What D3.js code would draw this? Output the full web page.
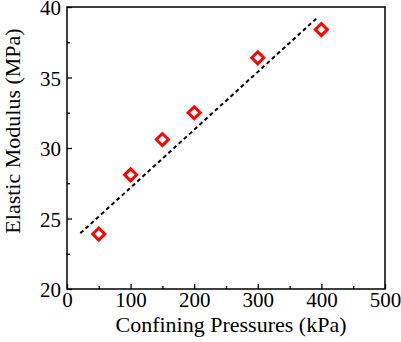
<!DOCTYPE html>
<html>
<head>
<meta charset="utf-8">
<script src="https://cdn.jsdelivr.net/npm/d3@7"></script>
<style>
  body { margin: 0; background: #fff; }
</style>
</head>
<body>
<div id="chart"></div>
<script>
// data
var pressures = [50, 100, 150, 200, 300, 400];          // kPa
var modulus = [23.9, 28.1, 30.6, 32.5, 36.4, 38.4];     // MPa
var fitX = [21, 395];
var fitY = [23.95, 39.3];
var xTicks = [0, 100, 200, 300, 400, 500];
var yTicks = [20, 25, 30, 35, 40];

var FONT = '"Liberation Serif", "Times New Roman", Times, serif';

var width = 401, height = 342;
var margin = {top: 7, right: 16, bottom: 53, left: 67};
var w = width - margin.left - margin.right;
var h = height - margin.top - margin.bottom;

var svg = d3.select('#chart').append('svg')
    .attr('width', width)
    .attr('height', height);

var g = svg.append('g')
    .attr('transform', 'translate(' + margin.left + ',' + margin.top + ')');

var x = d3.scaleLinear().domain([0, 500]).range([0, w]);
var y = d3.scaleLinear().domain([20, 40]).range([h, 0]);

// frame
g.append('rect')
    .attr('width', w).attr('height', h)
    .attr('fill', 'none').attr('stroke', '#000').attr('stroke-width', 1.5);

// minor ticks (inward)
var xMinor = d3.range(50, 500, 100);
var yMinor = d3.range(22.5, 40, 5);

var gx = g.append('g').attr('transform', 'translate(0,' + h + ')')
    .call(d3.axisBottom(x).tickValues(xTicks).tickSize(-5).tickPadding(3).tickFormat(d3.format('d')));
var gxm = g.append('g').attr('transform', 'translate(0,' + h + ')')
    .call(d3.axisBottom(x).tickValues(xMinor).tickSize(-3).tickFormat(''));
var gy = g.append('g')
    .call(d3.axisLeft(y).tickValues(yTicks).tickSize(-5).tickPadding(6).tickFormat(d3.format('d')));
var gym = g.append('g')
    .call(d3.axisLeft(y).tickValues(yMinor).tickSize(-3).tickFormat(''));

[gx, gxm, gy, gym].forEach(function(a) {
  a.attr('font-family', null);
  a.select('.domain').remove();
  a.selectAll('.tick line').attr('stroke', '#000').attr('stroke-width', 1.3);
  a.selectAll('text')
      .style('font-family', FONT)
      .style('font-size', '21px')
      .attr('fill', '#000');
});
gy.selectAll('text').attr('dy', '0.36em');

// fit line
var line = d3.line().x(function(d) { return x(d[0]); }).y(function(d) { return y(d[1]); });
g.append('path')
    .datum(d3.zip(fitX, fitY))
    .attr('d', line)
    .attr('fill', 'none')
    .attr('stroke', '#000')
    .attr('stroke-width', 2)
    .attr('stroke-dasharray', '4,3');

// markers
var s = 6;
g.selectAll('.pt')
    .data(d3.zip(pressures, modulus))
    .enter().append('path')
    .attr('class', 'pt')
    .attr('d', function(d) {
      var cx = x(d[0]), cy = y(d[1]);
      return 'M' + cx + ',' + (cy - s) + 'L' + (cx + s) + ',' + cy +
             'L' + cx + ',' + (cy + s) + 'L' + (cx - s) + ',' + cy + 'Z';
    })
    .attr('fill', '#fff')
    .attr('stroke', '#ff0000')
    .attr('stroke-width', 3);

// axis titles
svg.append('text')
    .attr('x', 231)
    .attr('y', 332)
    .attr('text-anchor', 'middle')
    .style('font-family', FONT)
    .style('font-size', '22px')
    .text('Confining Pressures (kPa)');

svg.append('text')
    .attr('transform', 'translate(20,131) rotate(-90)')
    .attr('text-anchor', 'middle')
    .style('font-family', FONT)
    .style('font-size', '22px')
    .text('Elastic Modulus (MPa)');
</script>
</body>
</html>
